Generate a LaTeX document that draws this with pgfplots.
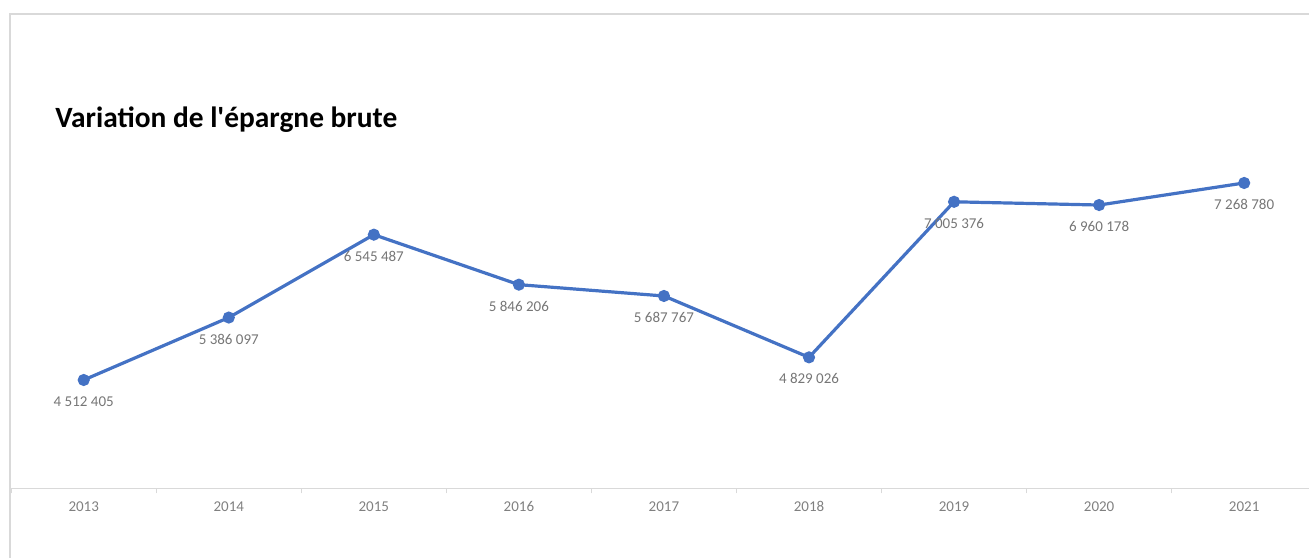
\documentclass[border=0pt]{standalone}
\usepackage{pgfplots}
\pgfplotsset{compat=1.18}
\usepackage{fontspec}
\setmainfont{Carlito}[Ligatures=TeXOff]
\definecolor{linecol}{HTML}{4472C4}
\definecolor{labgray}{HTML}{767676}
\definecolor{tickgray}{HTML}{808080}
\definecolor{bordergray}{HTML}{D9D9D9}
\begin{document}
\begin{tikzpicture}
\path[use as bounding box] (0,0) rectangle (654.5pt,278.5pt);
\clip (0,0) rectangle (654.5pt,278.5pt);
\draw[bordergray, line width=0.6pt] (5pt,-5pt) -- (5pt,271.5pt) -- (700pt,271.5pt);
\node[anchor=base west, inner sep=0pt, font=\fontsize{14.7pt}{17pt}\selectfont\bfseries] at (27.5pt,214.5pt) {Variation de l'épargne brute};
\begin{axis}[
  scale only axis,
  width=652.75pt, height=178.7pt,
  at={(5.6pt,34.45pt)}, anchor=south west,
  xmin=-0.5, xmax=8.5, ymin=3000000, ymax=8000000,
  axis x line*=bottom, axis y line=none,
  axis line style={bordergray, line width=0.6pt},
  xtick={0,...,8},
  xticklabels={2013,2014,2015,2016,2017,2018,2019,2020,2021},
  minor xtick={-0.5,0.5,...,8.5},
  major tick length=0pt, minor tick length=2.6pt,
  tick align=outside,
  minor tick style={bordergray, line width=0.6pt},
  xticklabel style={font=\fontsize{7.5pt}{9pt}\selectfont, text=tickgray, anchor=base, yshift=-11.85pt, inner sep=0pt},
  clip=false,
  point meta=explicit symbolic,
  nodes near coords,
  nodes near coords style={font=\fontsize{7.5pt}{9pt}\selectfont, text=labgray, anchor=base, yshift=-13.3pt, inner sep=0pt},
]
\addplot[linecol, line width=1.6pt, mark=*, mark size=2.2pt, mark options={fill=linecol, draw=linecol}] coordinates {
(0,4512405) [4 512 405]
(1,5386097) [5 386 097]
(2,6545487) [6 545 487]
(3,5846206) [5 846 206]
(4,5687767) [5 687 767]
(5,4829026) [4 829 026]
(6,7005376) [7 005 376]
(7,6960178) [6 960 178]
(8,7268780) [7 268 780]
};
\end{axis}
\end{tikzpicture}
\end{document}
